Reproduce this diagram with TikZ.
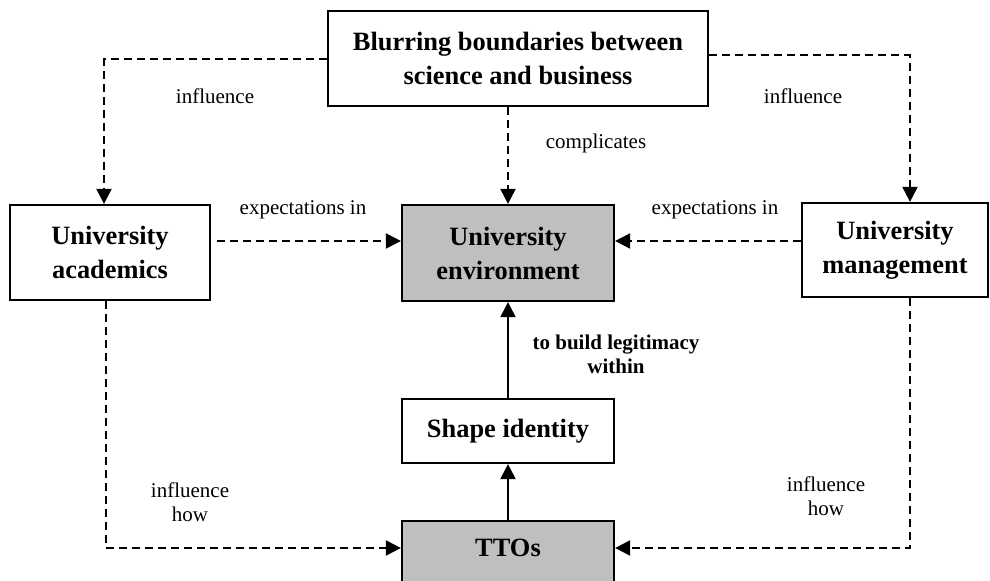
\documentclass[tikz,border=0pt]{standalone}
\usepackage{fontspec}
\setmainfont{Liberation Serif}
\usetikzlibrary{arrows.meta}

\begin{document}
\begin{tikzpicture}[x=0.5pt,y=-0.5pt]
\tikzstyle{every box}=[draw=black,line width=1.1pt,align=center,inner sep=0pt,font=\fontsize{13.2}{17}\selectfont\bfseries]
\tikzstyle{box}=[every box]
\tikzstyle{greybox}=[every box,fill=gray!50]
\tikzstyle{link}=[line width=1pt,-{Triangle[length=7.5pt,width=7.5pt]}]
\tikzstyle{dlink}=[link,dash pattern=on 4pt off 2.5pt]
\tikzstyle{lbl}=[align=center,font=\fontsize{10.5}{12}\selectfont]
\useasboundingbox (0,0) rectangle (990,581);
\node[box,minimum width=190pt,minimum height=47.5pt] (blur) at (518,58.5) {Blurring boundaries between\\science and business};
\node[box,minimum width=100pt,minimum height=47.5pt] (acad) at (110,252.5) {University\\academics};
\node[greybox,minimum width=106pt,minimum height=48pt] (env) at (508,253) {University\\environment};
\node[box,minimum width=93pt,minimum height=47pt] (mgmt) at (895,250) {University\\management};
\node[box,minimum width=106pt,minimum height=32pt] (shape) at (508,431) {Shape identity};
\node[greybox,minimum width=106pt,text height=17.9pt,text depth=22.1pt] (tto) at (508,561) {TTOs};
% dashed influences
\draw[dlink] ([yshift=-0.5pt]blur.west) -| ([xshift=-3pt]acad.north);
\draw[dlink] ([yshift=1.5pt]blur.east) -| ([xshift=7.5pt]mgmt.north);
\draw[dlink] (env.north |- blur.south) -- (env.north);
\draw[dlink] ([shift={(3pt,5.75pt)}]acad.east) -- ([yshift=6pt]env.west);
\draw[dlink] ([yshift=4.5pt]mgmt.west) -- ([yshift=6pt]env.east);
\draw[dlink] ([xshift=-2pt]acad.south) |- ([yshift=6.5pt]tto.west);
\draw[dlink] ([xshift=7.5pt]mgmt.south) |- ([yshift=6.5pt]tto.east);
% solid
\draw[link] (tto.north) -- (shape.south);
\draw[link] (shape.north) -- (env.south);
% labels
\node[lbl] (l1) at (215,96) {influence};
\node[lbl] (l2) at (803,96) {influence};
\node[lbl] (l3) at (596,143) {complicates};
\node[lbl] (l4) at (303,210) {expectations in};
\node[lbl] (l5) at (715,210) {expectations in};
\node[lbl,font=\fontsize{10.5}{12}\selectfont\bfseries] (l6) at (616,354) {to build legitimacy\\within};
\node[lbl] (l7) at (190,502) {influence\\how};
\node[lbl] (l8) at (826,496) {influence\\how};
\end{tikzpicture}
\end{document}
